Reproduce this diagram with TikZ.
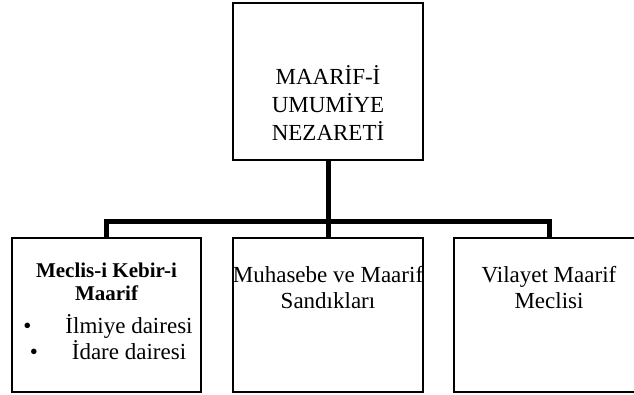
\documentclass[tikz,border=0pt]{standalone}
\usepackage{fontspec}
\setmainfont{Liberation Serif}

\tikzset{
  orgbox/.style={draw, line width=1.3pt, minimum width=190pt, inner sep=0pt},
  orgtext/.style={align=center, font=\fontsize{23}{26}\selectfont, inner sep=0pt},
  link/.style={line width=5pt}
}

\begin{document}
\begin{tikzpicture}[x=1pt, y=-1pt]

    \useasboundingbox (0,0) rectangle (634,394);
    \clip (0,0) rectangle (634,394);

    % Top: ministry
    \node[orgbox, minimum height=157pt] (top) at (328,81.5) {};
    \node[orgtext, anchor=base, font=\fontsize{23}{28}\selectfont] (toptext) at (328,140) {MAAR\.IF-\.I\\UMUM\.IYE\\NEZARET\.I};

    % Bottom row
    \node[orgbox, minimum width=189pt, minimum height=154pt] (meclis) at (106.5,315) {};
    \node[orgbox, minimum height=154pt] (muhasebe) at (328,315) {};
    \node[orgbox, minimum height=154pt] (vilayet) at (549,315) {};

    \node[orgtext, anchor=base, font=\fontsize{21}{23}\selectfont\bfseries] (meclistext) at (106.5,300) {Meclis-i Kebir-i\\Maarif};
    \node[orgtext, anchor=base] (ilmiye) at (108,333) {\textbullet\hspace{34pt}\.Ilmiye dairesi};
    \node[orgtext, anchor=base] (idare) at (108,359) {\textbullet\hspace{34pt}\.Idare dairesi};
    \node[orgtext, anchor=base] (muhasebetext) at (328,308) {Muhasebe ve Maarif\\Sand\i klar\i};
    \node[orgtext, anchor=base] (vilayettext) at (549,308) {Vilayet Maarif\\Meclisi};

    % Connectors
    \coordinate (bus) at (328,221.5);
    \draw[link] (top.south) -- (bus);
    \draw[link] (meclis.north) |- (bus) -| (vilayet.north);
    \draw[link] (bus) -- (muhasebe.north);

\end{tikzpicture}
\end{document}
